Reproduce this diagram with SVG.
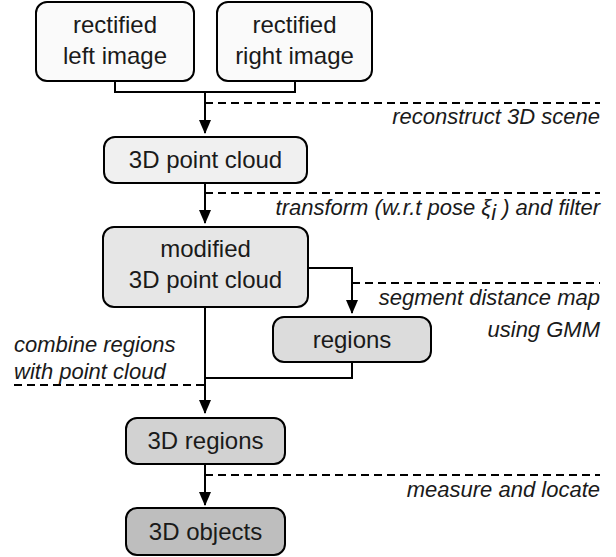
<svg xmlns="http://www.w3.org/2000/svg" width="616" height="557" viewBox="0 0 616 557">
<defs>
<marker id="arr" markerWidth="14" markerHeight="14" viewBox="0 0 14 14" refX="13" refY="7" orient="auto" markerUnits="userSpaceOnUse">
<path d="M0,1 L14,7 L0,13 Z" fill="#000"/>
</marker>
<style>
.box{stroke:#000;stroke-width:2}
.t{font-family:"Liberation Sans",Arial,sans-serif;font-size:24px;fill:#1a1a1a;text-anchor:middle}
.l{font-family:"Liberation Sans",Arial,sans-serif;font-size:22px;font-style:italic;fill:#1a1a1a;text-anchor:end}
.c{fill:none;stroke:#000;stroke-width:2}
.d{fill:none;stroke:#000;stroke-width:2;stroke-dasharray:8,5}
</style>
</defs>
<rect width="616" height="557" fill="#fff"/>
<g id="connectors">
<polyline class="c" points="115,81 115,92 295,92 295,81"/>
<line class="c" x1="205" y1="92" x2="205" y2="133" marker-end="url(#arr)"/>
<line class="d" x1="205" y1="103" x2="600" y2="103"/>
<line class="c" x1="205" y1="183" x2="205" y2="223" marker-end="url(#arr)"/>
<line class="d" x1="205" y1="193" x2="600" y2="193"/>
<polyline class="c" points="308,268 352,268 352,313" marker-end="url(#arr)"/>
<line class="d" x1="352" y1="283" x2="600" y2="283"/>
<polyline class="c" points="352,362 352,378 205,378"/>
<line class="c" x1="205" y1="307" x2="205" y2="413" marker-end="url(#arr)"/>
<line class="d" x1="14" y1="385" x2="205" y2="385"/>
<line class="c" x1="205" y1="464" x2="205" y2="505" marker-end="url(#arr)"/>
<line class="d" x1="205" y1="475" x2="600" y2="475"/>
<text class="l" x="600" y="124">reconstruct 3D scene</text>
<text class="l" x="600" y="215">transform (w.r.t pose ξ<tspan dy="5">i</tspan><tspan dy="-5"> ) and filter</tspan></text>
<text class="l" x="600" y="305">segment distance map</text>
<text class="l" x="600" y="337">using GMM</text>
<text class="l" x="14" y="352" style="text-anchor:start">combine regions</text>
<text class="l" x="14" y="379" style="text-anchor:start">with point cloud</text>
<text class="l" x="600" y="497">measure and locate</text>
</g>
<g id="left">
<rect class="box" x="36" y="2" width="158" height="79" rx="11" fill="#fafafa"/>
<text class="t" x="115" y="33">rectified</text>
<text class="t" x="115" y="64">left image</text>
</g>
<g id="right">
<rect class="box" x="217" y="2" width="155" height="79" rx="11" fill="#fafafa"/>
<text class="t" x="294.5" y="33">rectified</text>
<text class="t" x="294.5" y="64">right image</text>
</g>
<g id="pointcloud">
<rect class="box" x="104" y="137" width="203" height="46" rx="11" fill="#f0f0f0"/>
<text class="t" x="205.5" y="168">3D point cloud</text>
</g>
<g id="modified">
<rect class="box" x="103" y="227" width="205" height="80" rx="11" fill="#e6e6e6"/>
<text class="t" x="205.5" y="257">modified</text>
<text class="t" x="205.5" y="288">3D point cloud</text>
</g>
<g id="regions">
<rect class="box" x="273" y="317" width="158" height="45" rx="11" fill="#dcdcdc"/>
<text class="t" x="352" y="348">regions</text>
</g>
<g id="regions3d">
<rect class="box" x="126" y="418" width="159" height="46" rx="11" fill="#d2d2d2"/>
<text class="t" x="205.5" y="449">3D regions</text>
</g>
<g id="objects3d">
<rect class="box" x="126" y="508" width="159" height="47" rx="11" fill="#bebebe"/>
<text class="t" x="205.5" y="540">3D objects</text>
</g>
</svg>
